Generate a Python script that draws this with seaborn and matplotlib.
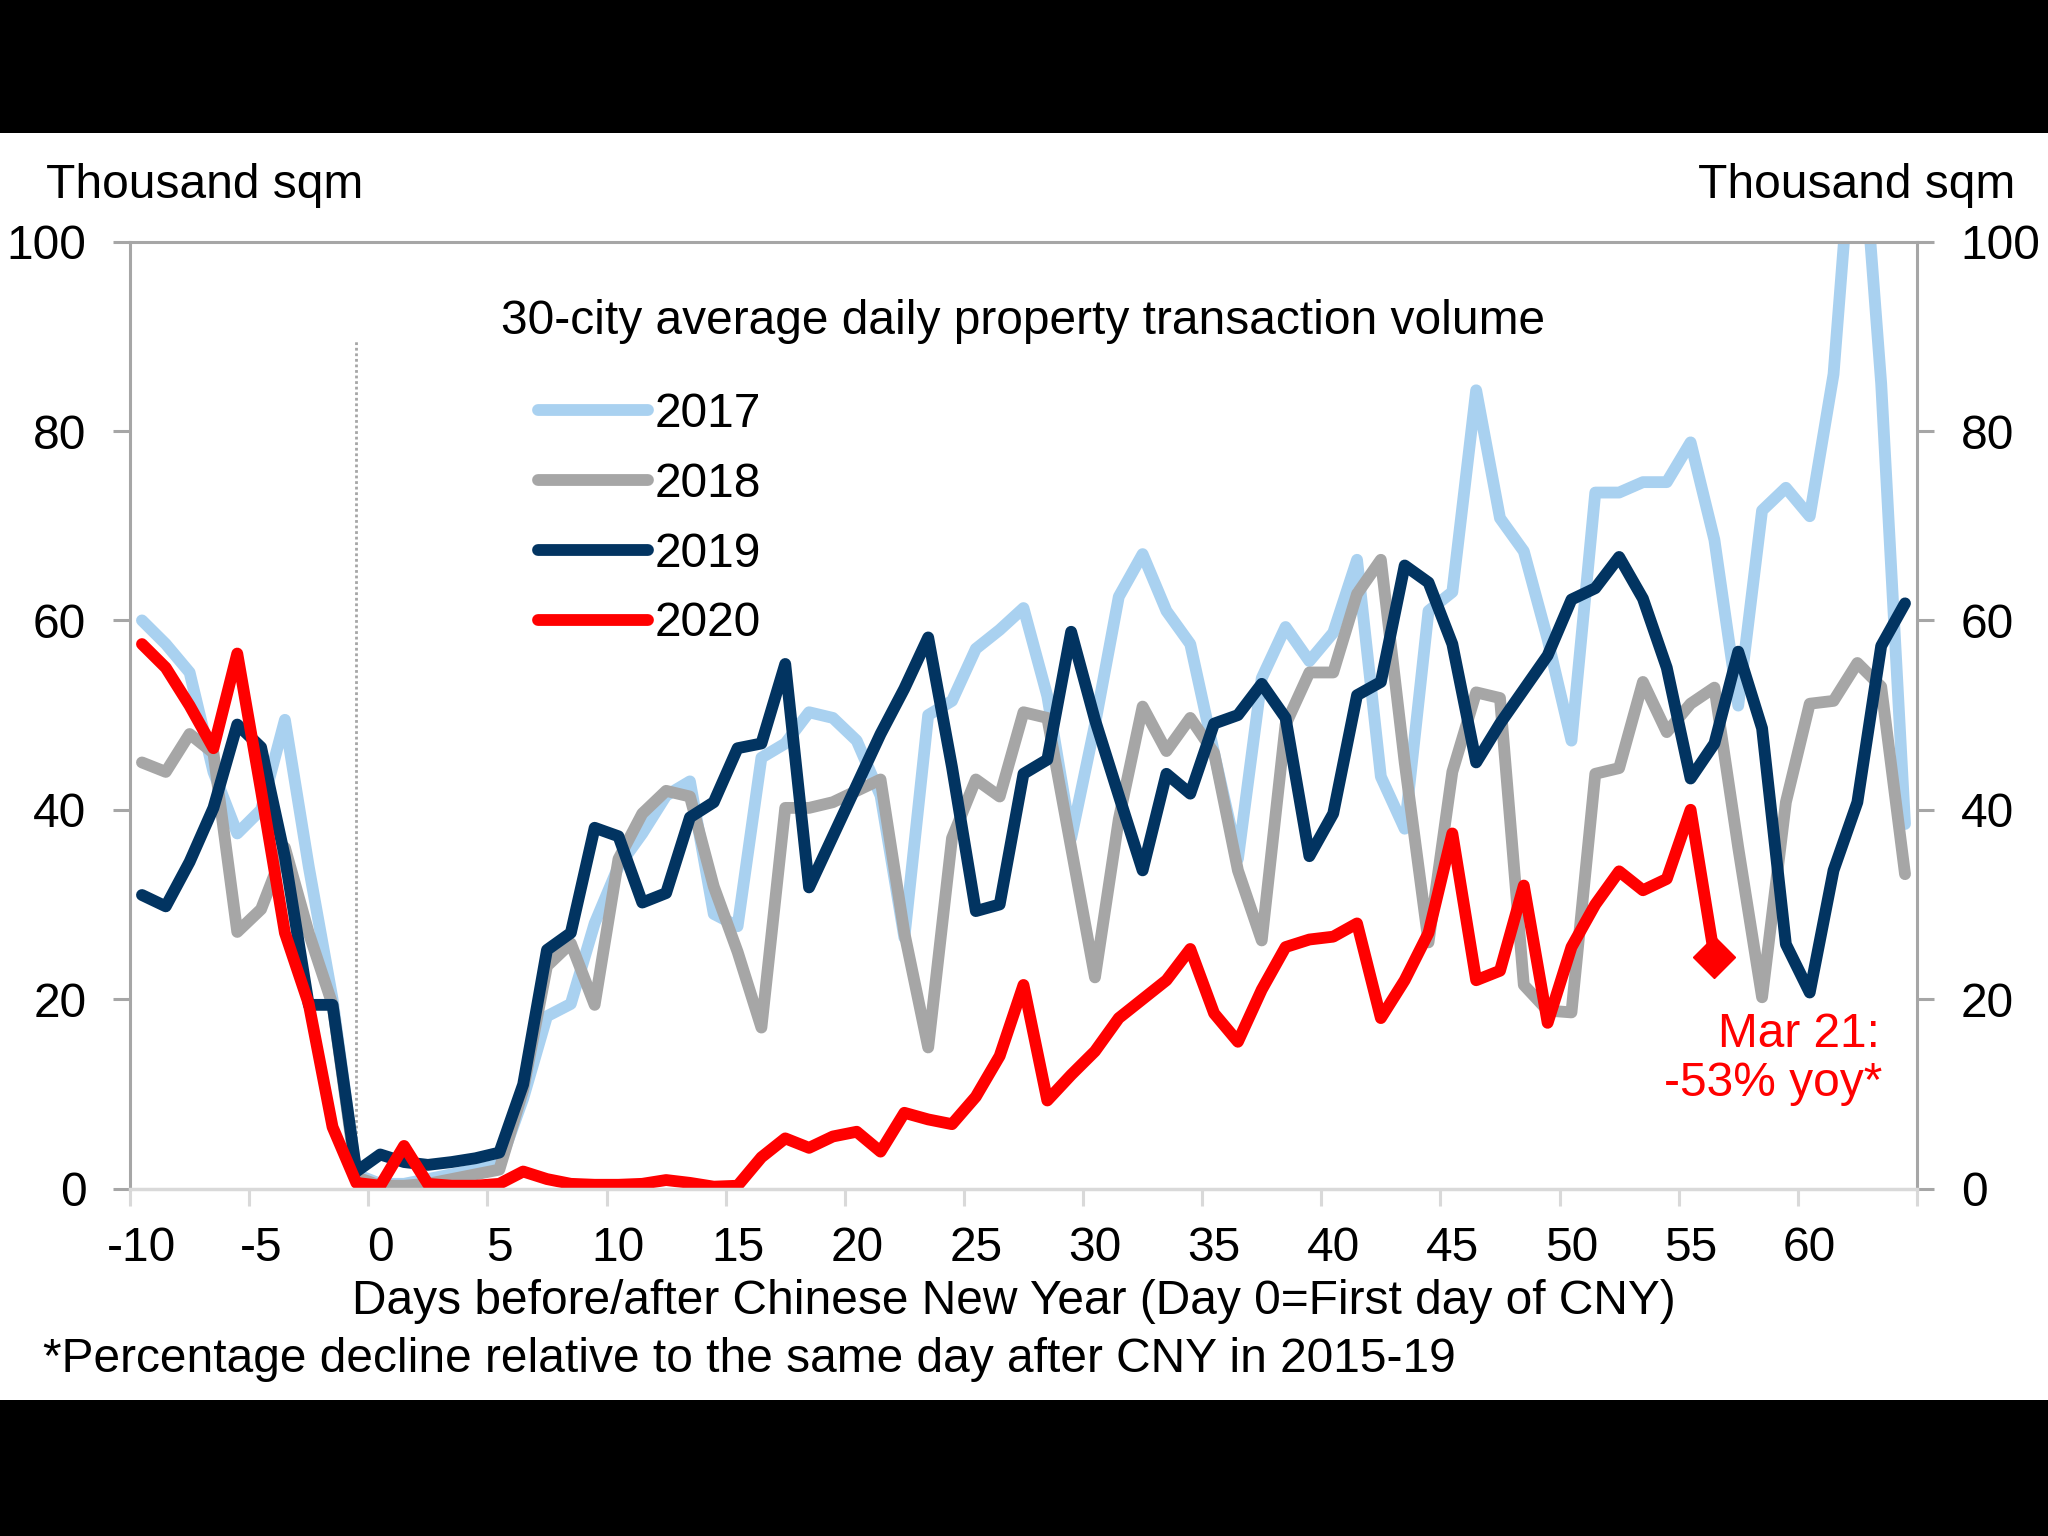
import numpy as np
import pandas as pd
import matplotlib
matplotlib.use("Agg")
import matplotlib.pyplot as plt
from matplotlib.patches import Rectangle
import seaborn as sns

# data (thousand sqm, day 0 = first day of CNY)
days = list(range(-10, 65))
years = ["2017", "2018", "2019", "2020"]

v2017 = [60, 57.5, 54.5, 44, 37.5, 40, 49.5, 34, 20, 1.5,
         0.5, 0.5, 1, 1.5, 2, 2.5, 9.5, 18.2, 19.5, 28,
         34, 37.5, 41.5, 43, 29, 27.7, 45.5, 47, 50.3, 49.7,
         47.3, 41.5, 26.5, 50, 51.5, 57, 59, 61.3, 52, 37,
         49, 62.5, 67, 61, 57.5, 46, 34.8, 53.9, 59.3, 55.7,
         58.7, 66.4, 43.5, 38, 61, 63, 84.3, 70.8, 67.3, 58,
         47.3, 73.5, 73.5, 74.6, 74.6, 78.8, 68.5, 51, 71.6, 74,
         71, 86, 118, 85, 38.5]
v2018 = [45, 44, 48, 46, 27.1, 29.5, 36, 27, 19.4, 1.2,
         0.3, 0.3, 0.5, 1, 1.5, 2, 10.4, 23.5, 25.9, 19.4,
         34.8, 39.6, 42, 41.4, 31.9, 25, 17, 40.2, 40.2, 40.8,
         42, 43.2, 27, 14.9, 37, 43.2, 41.4, 50.3, 49.7, 36,
         22.3, 39, 50.9, 46.2, 49.7, 46, 33.6, 26.2, 49, 54.5,
         54.5, 62.8, 66.4, 45, 26, 44, 52.4, 51.8, 21.5, 18.8,
         18.6, 43.8, 44.4, 53.5, 48.2, 51.2, 52.9, 36, 20.2, 40.8,
         51.2, 51.5, 55.5, 53, 33.2]
v2019 = [31, 29.8, 34.5, 40.2, 49, 46.6, 35, 19.4, 19.4, 1.8,
         3.6, 2.8, 2.5, 2.8, 3.2, 3.8, 11, 25.2, 27, 38.1,
         37.2, 30.2, 31.2, 39.2, 40.8, 46.5, 47, 55.4, 31.8, 37.2,
         42.6, 48, 52.8, 58.2, 44.5, 29.3, 30, 43.8, 45.3, 58.8,
         49.5, 41.5, 33.6, 43.8, 41.7, 49.1, 50, 53.3, 49.7, 35.1,
         39.6, 52.1, 53.5, 65.8, 64, 57.5, 45, 49.1, 52.7, 56.3,
         62.2, 63.4, 66.7, 62.3, 55, 43.3, 47, 56.7, 48.6, 25.8,
         20.7, 33.6, 40.8, 57.3, 61.8]
# 2020 only runs to day 56 (Mar 21)
v2020 = [57.5, 55, 51, 46.5, 56.5, 42, 27, 19.5, 6.5, 0.6,
         0.3, 4.5, 0.5, 0.3, 0.3, 0.5, 1.8, 1, 0.5, 0.4,
         0.4, 0.5, 0.9, 0.6, 0.2, 0.3, 3.3, 5.3, 4.3, 5.5,
         6, 3.9, 8, 7.3, 6.8, 9.7, 14, 21.5, 9.3, 12,
         14.5, 18, 20, 22, 25.3, 18.5, 15.5, 21, 25.5, 26.3,
         26.6, 28, 18, 22, 27, 37.5, 22, 23, 32, 17.5,
         25.5, 30, 33.5, 31.5, 32.7, 40, 24.5]
days_2020 = days[:len(v2020)]

y_ticks = [0, 20, 40, 60, 80, 100]
x_tick_days = list(range(-10, 61, 5))
x_tick_labels = [str(d) for d in x_tick_days]

colors = {"2017": "#A9D1F0", "2018": "#A6A6A6", "2019": "#023461", "2020": "#FF0000"}

df = pd.concat([
    pd.DataFrame({"day": days, "volume": v2017, "year": "2017"}),
    pd.DataFrame({"day": days, "volume": v2018, "year": "2018"}),
    pd.DataFrame({"day": days, "volume": v2019, "year": "2019"}),
    pd.DataFrame({"day": days_2020, "volume": v2020, "year": "2020"}),
])

sns.set_style("white")
plt.rcParams["font.family"] = ["Liberation Sans", "DejaVu Sans"]
plt.rcParams["text.color"] = "black"
FS = 34.5
LW = 8.5

fig = plt.figure(figsize=(20.48, 15.36), dpi=100, facecolor="black")
fig.add_artist(Rectangle((0, 0.0885), 1, 0.9134 - 0.0885, transform=fig.transFigure,
                         facecolor="white", edgecolor="none", zorder=-5))
ax = fig.add_axes([0.0635, 0.2262, 0.8725, 0.6165])

sns.lineplot(data=df, x="day", y="volume", hue="year", hue_order=years, palette=colors,
             estimator=None, sort=False, legend=False, ax=ax)
series_lines = ax.lines[:4]
for ln in series_lines:
    ln.set_linewidth(LW)
    ln.set_solid_joinstyle("round")
ax.plot(days_2020[-1], v2020[-1], marker="D", ms=21, color=colors["2020"], zorder=5)

# day before CNY marker
ax.vlines(-1, 0, 89.5, colors="#A6A6A6", linestyles=(0, (1, 1)), linewidth=2, zorder=1)

ax.set_xlim(-10.5, 64.5)
ax.set_ylim(0, 100)
ax.set_xlabel("")
ax.set_ylabel("")

ax.set_xticks(np.arange(-10.5, 65, 5))
ax.set_xticklabels([])
ax.set_xticks(x_tick_days, minor=True)
ax.set_xticklabels(x_tick_labels, minor=True)
ax.tick_params(axis="x", which="major", bottom=True, length=12, width=2.2,
               color="#D9D9D9", direction="out")
ax.tick_params(axis="x", which="minor", bottom=True, length=0, pad=27,
               labelsize=FS, labelcolor="black")

ax.set_yticks(y_ticks)
ax.tick_params(axis="y", left=True, right=True, labelleft=True, labelright=True,
               length=12.5, width=2.2, color="#A6A6A6", direction="out", pad=19,
               labelsize=FS, labelcolor="black")

for s in ["left", "right", "top"]:
    ax.spines[s].set_visible(True)
    ax.spines[s].set_color("#A6A6A6")
    ax.spines[s].set_linewidth(2.2)
ax.spines["bottom"].set_color("#D9D9D9")
ax.spines["bottom"].set_linewidth(2.5)

leg = ax.legend(handles=series_lines, labels=years, loc="upper left",
                bbox_to_anchor=(0.2625, 0.745), bbox_transform=fig.transFigure,
                frameon=False, fontsize=FS, handlelength=2.3, handletextpad=0.15,
                labelspacing=0.52, borderpad=0, borderaxespad=0)
for t in leg.get_texts():
    t.set_color("black")

# texts
fig.text(0.0223, 0.8711, "Thousand sqm", fontsize=FS, ha="left", va="baseline")
fig.text(0.984, 0.8711, "Thousand sqm", fontsize=FS, ha="right", va="baseline")
fig.text(0.4994, 0.7827, "30-city average daily property transaction volume",
         fontsize=FS, ha="center", va="baseline")
fig.text(0.495, 0.1445, "Days before/after Chinese New Year (Day 0=First day of CNY)",
         fontsize=FS, ha="center", va="baseline")
fig.text(0.021, 0.1066, "*Percentage decline relative to the same day after CNY in 2015-19",
         fontsize=FS, ha="left", va="baseline")
ax.text(62.95, 14.9, "Mar 21:", color="red", fontsize=FS, ha="right", va="baseline")
ax.text(63.05, 9.8, "-53% yoy*", color="red", fontsize=FS, ha="right", va="baseline")

fig.savefig("out.png", dpi=100, facecolor=fig.get_facecolor())
